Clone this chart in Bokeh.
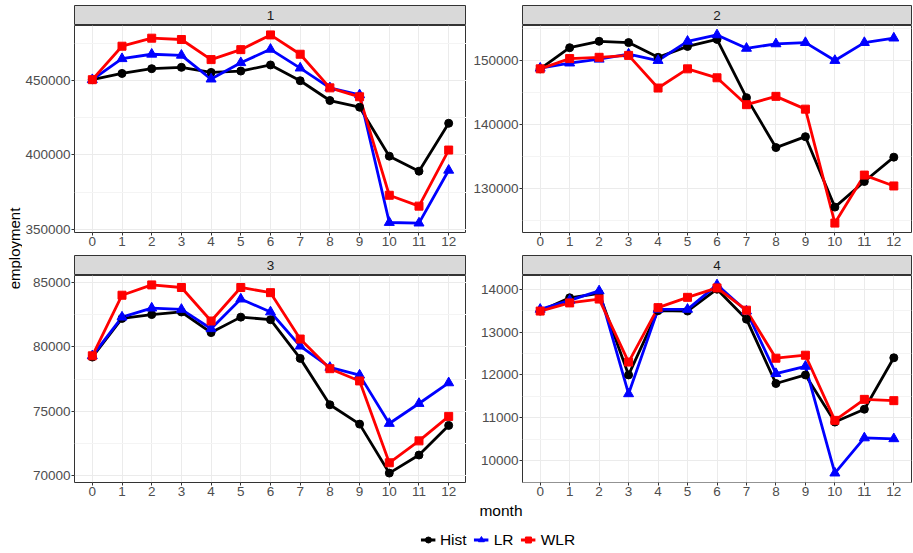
import numpy as np
from bokeh.plotting import figure
from bokeh.layouts import row, column
from bokeh.models import Range1d, FixedTicker, NumeralTickFormatter, Legend, LegendItem, ColumnDataSource
from bokeh.core.properties import value
from bokeh.embed import file_html
from bokeh.resources import INLINE

# ---------------- data ----------------
months = list(range(13))
panel_labels = ["1", "2", "3", "4"]
series_names = ["Hist", "LR", "WLR"]
series_colors = ["#000000", "#0000FF", "#FF0000"]
series_markers = ["circle", "triangle", "square"]

hist_1 = [450500, 454700, 457900, 458800, 455400, 456300, 460400, 449800, 436500, 432000, 399100, 389000, 421200]
lr_1 = [450500, 464600, 467600, 466900, 450900, 461900, 470900, 458300, 445000, 440300, 354500, 354100, 389600]
wlr_1 = [450500, 473000, 478400, 477500, 464000, 470700, 480600, 467600, 445000, 439000, 372800, 365500, 403200]

hist_2 = [148700, 152000, 153000, 152800, 150500, 152200, 153300, 144200, 136400, 138100, 127100, 131100, 134900]
lr_2 = [148800, 149600, 150200, 151000, 150000, 153000, 154000, 151900, 152600, 152800, 150000, 152800, 153500]
wlr_2 = [148700, 150300, 150500, 150800, 145700, 148700, 147300, 143100, 144400, 142400, 124600, 132100, 130400]

hist_3 = [79200, 82200, 82500, 82700, 81100, 82300, 82100, 79100, 75500, 74000, 70200, 71600, 73900]
lr_3 = [79300, 82300, 83000, 82900, 81400, 83700, 82700, 80050, 78400, 77800, 74050, 75600, 77200]
wlr_3 = [79300, 84000, 84800, 84600, 82000, 84600, 84200, 80600, 78300, 77350, 71000, 72700, 74600]

hist_4 = [13490, 13800, 13900, 12000, 13500, 13490, 14000, 13300, 11800, 12000, 10900, 11200, 12400]
lr_4 = [13530, 13740, 13960, 11560, 13530, 13530, 14100, 13490, 12030, 12200, 9710, 10530, 10510]
wlr_4 = [13490, 13680, 13770, 12300, 13570, 13810, 14030, 13510, 12390, 12460, 10940, 11430, 11400]

yticks_1 = [350000, 400000, 450000]
yminor_1 = [375000, 425000, 475000]
yticks_2 = [130000, 140000, 150000]
yminor_2 = [125000, 135000, 145000, 155000]
yticks_3 = [70000, 75000, 80000, 85000]
yminor_3 = [72500, 77500, 82500]
yticks_4 = [10000, 11000, 12000, 13000, 14000]
yminor_4 = [9500, 10500, 11500, 12500, 13500]

# ---------------- style ----------------
FONT = "Liberation Sans"
FW1 = 392     # panel frame width, column 1
FW2 = 389     # panel frame width, column 2
FH = 207      # panel frame height
SH = 20       # strip height
TOP = 5
YLAB_W = 22
LEFT1 = 52    # left border of column 1
LEFT2 = 56    # left border of column 2
RIGHT2 = 1
BOT1 = 23
BOT2 = 19
TICK_FS = "13.5px"
GRID = "#EBEBEB"
MINOR = "#F4F4F4"
DARK = "#333333"


def make_strip(label, fw, mbl, mbr, mbt):
    s = figure(frame_width=fw, frame_height=SH, min_border_left=mbl, min_border_right=mbr,
               min_border_top=mbt, min_border_bottom=0, x_range=Range1d(0, 1), y_range=Range1d(0, 1),
               x_axis_location=None, y_axis_location=None,
               output_backend="svg", toolbar_location=None)
    s.grid.visible = False
    s.background_fill_color = "#D9D9D9"
    s.border_fill_color = "white"
    s.outline_line_color = DARK
    s.outline_line_width = 1
    s.text(x=[0.5], y=[0.5], text=[label], text_align="center", text_baseline="middle",
           text_font=value(FONT), text_font_size=TICK_FS, text_color="#1A1A1A")
    return s


def make_panel(hist, lr, wlr, yticks, yminor, fw, mbl, mbr, mbb):
    allv = np.array(hist + lr + wlr, dtype=float)
    lo, hi = allv.min(), allv.max()
    pad = (hi - lo) * 0.05
    p = figure(frame_width=fw, frame_height=FH, min_border_left=mbl, min_border_right=mbr,
               min_border_top=0, min_border_bottom=mbb,
               x_range=Range1d(-0.6, 12.6), y_range=Range1d(lo - pad, hi + pad),
               output_backend="svg", toolbar_location=None)
    p.background_fill_color = "white"
    p.border_fill_color = "white"
    p.outline_line_color = DARK
    p.outline_line_width = 1
    p.xaxis.ticker = FixedTicker(ticks=months)
    p.yaxis.ticker = FixedTicker(ticks=yticks, minor_ticks=yminor)
    p.yaxis.formatter = NumeralTickFormatter(format="0")
    for ax in (p.xaxis[0], p.yaxis[0]):
        ax.axis_line_color = None
        ax.major_tick_line_color = DARK
        ax.major_tick_out = 3
        ax.major_tick_in = 0
        ax.minor_tick_out = 0
        ax.minor_tick_in = 0
        ax.minor_tick_line_color = None
        ax.major_label_text_font = FONT
        ax.major_label_text_font_size = TICK_FS
        ax.major_label_text_color = "#4D4D4D"
        ax.major_label_standoff = 1
    p.xgrid.grid_line_color = GRID
    p.ygrid.grid_line_color = GRID
    p.ygrid.minor_grid_line_color = MINOR
    p.xgrid.grid_line_width = 1
    p.ygrid.grid_line_width = 1
    for vals, col in zip([hist, lr, wlr], series_colors):
        p.line(months, vals, line_color=col, line_width=2.8)
    sizes = {"circle": 8, "triangle": 10, "square": 8}
    for vals, col, mk in zip([hist, lr, wlr], series_colors, series_markers):
        p.scatter(months, vals, marker=mk, size=sizes[mk], fill_color=col, line_color=col)
    return p


s1 = make_strip(panel_labels[0], FW1, LEFT1, 0, TOP)
s2 = make_strip(panel_labels[1], FW2, LEFT2, RIGHT2, TOP)
s3 = make_strip(panel_labels[2], FW1, LEFT1, 0, 0)
s4 = make_strip(panel_labels[3], FW2, LEFT2, RIGHT2, 0)
p1 = make_panel(hist_1, lr_1, wlr_1, yticks_1, yminor_1, FW1, LEFT1, 0, BOT1)
p2 = make_panel(hist_2, lr_2, wlr_2, yticks_2, yminor_2, FW2, LEFT2, RIGHT2, BOT1)
p3 = make_panel(hist_3, lr_3, wlr_3, yticks_3, yminor_3, FW1, LEFT1, 0, BOT2)
p4 = make_panel(hist_4, lr_4, wlr_4, yticks_4, yminor_4, FW2, LEFT2, RIGHT2, BOT2)

GRID_H = TOP + SH + FH + BOT1 + SH + FH + BOT2
TOTAL_W = YLAB_W + LEFT1 + FW1 + LEFT2 + FW2 + RIGHT2

# y-axis title
ylab = figure(frame_width=YLAB_W, frame_height=GRID_H, min_border=0,
              x_range=Range1d(0, 1), y_range=Range1d(0, 1),
              x_axis_location=None, y_axis_location=None,
              output_backend="svg", toolbar_location=None)
ylab.grid.visible = False
ylab.outline_line_color = None
ylab.text(x=[0.64], y=[0.505], text=["employment"], angle=np.pi / 2, text_align="center",
          text_baseline="middle", text_font=value(FONT), text_font_size="15px", text_color="black")

# x-axis title
MBL_X = 77
xlab = figure(frame_width=TOTAL_W - MBL_X, frame_height=17, min_border=0, min_border_left=MBL_X,
              x_range=Range1d(0, 1), y_range=Range1d(0, 1),
              x_axis_location=None, y_axis_location=None,
              output_backend="svg", toolbar_location=None)
xlab.grid.visible = False
xlab.outline_line_color = None
xlab.text(x=[0.5], y=[0.5], text=["month"], text_align="center", text_baseline="middle",
          text_font=value(FONT), text_font_size="15.5px", text_color="black")

# legend
MBL_L = 83
leg = figure(frame_width=TOTAL_W - MBL_L, frame_height=25, min_border=0, min_border_left=MBL_L,
             min_border_top=9,
             x_range=Range1d(0, 1), y_range=Range1d(0, 1),
             x_axis_location=None, y_axis_location=None,
             output_backend="svg", toolbar_location=None)
leg.grid.visible = False
leg.outline_line_color = None
items = []
for name, col, mk in zip(series_names, series_colors, series_markers):
    src = ColumnDataSource(data=dict(x=[np.nan], y=[np.nan]))
    r1 = leg.line("x", "y", source=src, line_color=col, line_width=2.8)
    r2 = leg.scatter("x", "y", source=src, marker=mk, fill_color=col, line_color=col, size=8)
    items.append(LegendItem(label=name, renderers=[r1, r2]))
legend = Legend(items=items, orientation="horizontal", location="center",
                glyph_width=15, glyph_height=17, label_standoff=5, spacing=7,
                padding=0, margin=0, border_line_color=None, background_fill_alpha=0,
                label_text_font=FONT, label_text_font_size="15.5px", label_text_color="black")
leg.add_layout(legend, "center")

col1 = column(s1, p1, s3, p3, spacing=0)
col2 = column(s2, p2, s4, p4, spacing=0)
grid = row(ylab, col1, col2, spacing=0)
layout = column(grid, xlab, leg, spacing=0)

open("out.html", "w").write(file_html(layout, INLINE))
